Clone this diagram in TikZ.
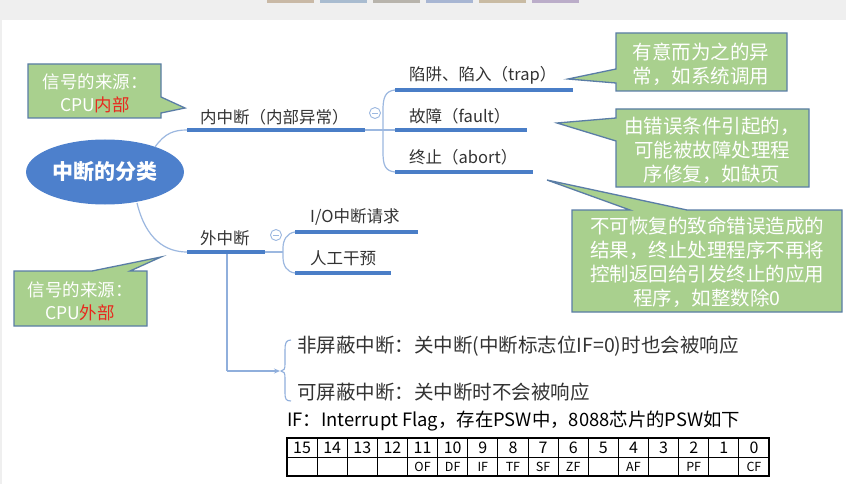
\documentclass[tikz,border=0pt]{standalone}
\usepackage{fontspec}
\setmainfont{Noto Sans CJK SC}
\usetikzlibrary{arrows.meta,shapes.geometric}
\definecolor{bluemain}{HTML}{4A7EC7}
\definecolor{bluethin}{HTML}{9CB8E0}
\definecolor{ellfill}{HTML}{4D80CC}
\definecolor{cfill}{HTML}{A9D08E}
\definecolor{cborder}{HTML}{5A7DA6}
\definecolor{txt}{HTML}{333333}
\definecolor{redt}{HTML}{E8281E}
\definecolor{bgray}{HTML}{EFEFEF}
\begin{document}
\begin{tikzpicture}[x=1pt,y=-1pt,
  topicline/.style={draw=bluemain,line width=3.2pt},
  thinline/.style={draw=bluethin,line width=1.2pt},
  lbl/.style={anchor=west,inner sep=0pt,text=txt,font=\fontsize{16.5}{19}\selectfont},
  biglbl/.style={anchor=west,inner sep=0pt,text=txt,font=\fontsize{19.5}{22}\selectfont},
  callout/.style={fill=cfill,draw=cborder,line width=1.3pt,line join=miter},
  ctext/.style={align=center,text=white,inner sep=0pt,font=\fontsize{19.5}{24}\selectfont},
  stext/.style={align=center,text=white,inner sep=0pt,font=\fontsize{17.5}{23}\selectfont},
  collapse/.style={circle,draw=bluethin,line width=0.9pt,minimum size=11pt,inner sep=0pt},
  cell/.style={draw=black,line width=0.9pt}
]
\useasboundingbox (0,0) rectangle (846,484);
\fill[bgray] (0,0) rectangle (846,484);
\fill[white] (2,20) rectangle (846,484);
% toolbar buttons (top)
\foreach \c [count=\i from 0] in {C9B9A6,A9BCD0,B8B4AC,A8B6D3,C9BBA3,BBADC9}
  {\definecolor{btn}{HTML}{\c}\fill[btn] (267+\i*53,0) rectangle (314+\i*53,3);}

% root
\node[ellipse,fill=ellfill,minimum width=146pt,minimum height=65pt,text=white,
      font=\fontsize{21}{24}\selectfont\bfseries] (root) at (105,172) {中断的分类};

% internal interrupt
\coordinate (inA) at (187,130);
\coordinate (inB) at (365,130);
\node[lbl] (inner) at (200,117) {内中断（内部异常）};
\draw[thinline] (155,147) .. controls (165,133) and (174,130) .. (inA);
\draw[topicline] (inA) -- (inB);
\node[collapse] (c1) at (375,113) {};
\draw[bluethin,line width=0.9pt] ([xshift=-3pt]c1.center) -- ([xshift=3pt]c1.center);

\coordinate (trA) at (395,90);  \coordinate (trB) at (573,90);
\coordinate (faA) at (395,130); \coordinate (faB) at (527,130);
\coordinate (abA) at (395,172); \coordinate (abB) at (533,172);
\draw[thinline] (inB) -- (faA);
\draw[thinline] (trA) .. controls (385,91) and (383,98) .. (383,110) -- (383,152)
   .. controls (383,165) and (385,171) .. (abA);
\draw[topicline] (trA) -- (trB);
\draw[topicline] (faA) -- (faB);
\draw[topicline] (abA) -- (abB);
\node[lbl] (trap) at (409,75) {陷阱、陷入（trap）};
\node[lbl] (fault) at (409,116) {故障（fault）};
\node[lbl] (abort) at (409,157) {终止（abort）};

% external interrupt
\coordinate (exA) at (187,252);
\coordinate (exB) at (265,252);
\node[lbl] (outer) at (200,238) {外中断};
\draw[thinline] (137,203) .. controls (146,240) and (166,252) .. (exA);
\draw[topicline] (exA) -- (exB);
\node[collapse] (c2) at (276,235) {};
\draw[bluethin,line width=0.9pt] ([xshift=-3pt]c2.center) -- ([xshift=3pt]c2.center);
\coordinate (ioA) at (295,232); \coordinate (ioB) at (418,232);
\coordinate (hmA) at (295,273); \coordinate (hmB) at (391,273);
\draw[thinline] (exB) -- (283,252);
\draw[thinline] (ioA) .. controls (287,233) and (283,240) .. (283,248) -- (283,257)
   .. controls (283,266) and (287,272) .. (hmA);
\draw[topicline] (ioA) -- (ioB);
\draw[topicline] (hmA) -- (hmB);
\node[lbl] (io) at (310,217) {I/O中断请求};
\node[lbl] (hm) at (310,258) {人工干预};

% maskable branch
\coordinate (vt) at (227,254);
\coordinate (vb) at (227,371);
\coordinate (arr) at (280,371);
\draw[bluethin!85!bluemain,line width=1.1pt] (vt) -- (vb);
\draw[bluethin!85!bluemain,line width=1.1pt,-{Stealth[length=6pt,width=5pt]}] (vb) -- (arr);
\draw[bluethin!85!bluemain,line width=1.1pt] (291,340) .. controls (286,340) and (285,343) .. (285,350)
  -- (285,364) .. controls (285,369) and (284,371) .. (281,371)
  .. controls (284,371) and (285,373) .. (285,378) -- (285,393)
  .. controls (285,399) and (286,401) .. (291,401);
\node[biglbl] (nmi) at (297,346) {非屏蔽中断：关中断(中断标志位IF=0)时也会被响应};
\node[biglbl] (mi) at (297,392) {可屏蔽中断：关中断时不会被响应};
\node[anchor=west,inner sep=0pt,text=black,font=\fontsize{18.4}{21}\selectfont] (ifl) at (287,421)
  {IF：Interrupt Flag，存在PSW中，8088芯片的PSW如下};

% PSW table
\foreach \n/\f [count=\i from 0] in {15/{},14/{},13/{},12/{},11/OF,10/DF,9/IF,8/TF,7/SF,6/ZF,5/{},4/AF,3/{},2/PF,1/{},0/CF}{
  \pgfmathsetmacro{\xl}{287+\i*30.125}
  \pgfmathsetmacro{\xr}{287+(\i+1)*30.125}
  \draw[cell] (\xl,438) rectangle (\xr,457);
  \draw[cell] (\xl,457) rectangle (\xr,476);
  \node[inner sep=0pt,font=\fontsize{16}{18}\selectfont] (h\i) at ({(\xl+\xr)/2},447.5) {\n};
  \node[inner sep=0pt,font=\fontsize{12.5}{14}\selectfont] (f\i) at ({(\xl+\xr)/2},467) {\f};
}
\draw[black,line width=1.3pt] (287,438) rectangle (769,476);

% callouts
\draw[callout] (28,64) -- (161,64) -- (161,97) -- (185,108) -- (161,113) -- (161,118) -- (28,118) -- cycle;
\node[stext] (src1) at (95,93) {信号的来源：\\CPU\textcolor{redt}{内部}};

\draw[callout] (14,271) -- (92,271) -- (161,257) -- (130,271) -- (147,271) -- (147,326) -- (14,326) -- cycle;
\node[stext] (src2) at (80,301) {信号的来源：\\CPU\textcolor{redt}{外部}};

\draw[callout] (616,33) -- (787,33) -- (787,91) -- (616,91) -- (616,83) -- (568,79) -- (616,69) -- cycle;
\node[ctext] (d1) at (701,64) {有意而为之的异\\常，如系统调用};

\draw[callout] (616,109) -- (809,109) -- (809,187) -- (616,187) -- (616,141) -- (557,123) -- (616,118) -- cycle;
\node[ctext] (d2) at (712,150) {由错误条件引起的，\\可能被故障处理程\\序修复，如缺页};

\draw[callout] (572,210) -- (630,210) -- (547,180) -- (687,210) -- (842,210) -- (842,312) -- (572,312) -- cycle;
\node[ctext] (d3) at (707,262) {不可恢复的致命错误造成的\\结果，终止处理程序不再将\\控制返回给引发终止的应用\\程序，如整数除0};
\end{tikzpicture}
\end{document}
